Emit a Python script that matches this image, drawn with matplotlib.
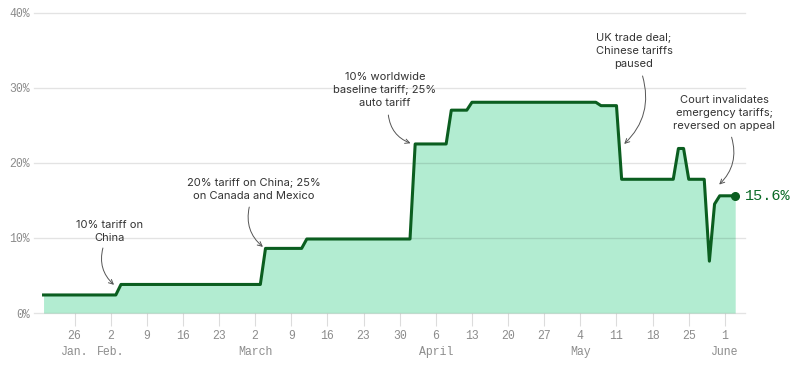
import matplotlib
matplotlib.use('Agg')
import matplotlib.pyplot as plt
import pandas as pd

# effective tariff rate (%) at each breakpoint, daily steps drawn as straight segments
dates = pd.to_datetime([
    '2025-01-20', '2025-02-03', '2025-02-04', '2025-03-03', '2025-03-04',
    '2025-03-11', '2025-03-12', '2025-04-01', '2025-04-02', '2025-04-08',
    '2025-04-09', '2025-04-12', '2025-04-13', '2025-05-07', '2025-05-08',
    '2025-05-11', '2025-05-12', '2025-05-22', '2025-05-23', '2025-05-24',
    '2025-05-25', '2025-05-28', '2025-05-29', '2025-05-30', '2025-05-31',
    '2025-06-03',
])
rate = [2.4, 2.4, 3.8, 3.8, 8.6,
        8.6, 9.85, 9.85, 22.5, 22.5,
        27.0, 27.0, 28.05, 28.05, 27.6,
        27.6, 17.8, 17.8, 21.9, 21.9,
        17.8, 17.8, 6.9, 14.5, 15.6,
        15.6]

tick_dates = pd.date_range('2025-01-26', '2025-06-01', freq='7D')
month_names = {'2025-01-26': 'Jan.', '2025-02-02': 'Feb.', '2025-03-02': 'March',
               '2025-04-06': 'April', '2025-05-04': 'May', '2025-06-01': 'June'}
y_ticks = [0, 10, 20, 30, 40]

# annotation: text, text position (days from Jan 26, %), arrow tail, arrow head, bend
notes = [
    ('10% tariff on\nChina', (6.7, 10.85), (5.5, 8.65), (7.65, 3.75), 0.3),
    ('20% tariff on China; 25%\non Canada and Mexico', (34.7, 16.4), (33.85, 14.1), (36.5, 8.8), 0.3),
    ('10% worldwide\nbaseline tariff; 25%\nauto tariff', (60.15, 29.7), (60.8, 26.35), (65.1, 22.6), 0.3),
    ('UK trade deal;\nChinese tariffs\npaused', (108.4, 34.9), (110.05, 31.55), (106.5, 22.5), -0.3),
    ('Court invalidates\nemergency tariffs;\nreversed on appeal', (125.85, 26.6), (127.3, 23.4), (124.9, 17.1), -0.3),
]

plt.rcParams['font.family'] = 'Liberation Mono'

base = pd.Timestamp('2025-01-26')


def day(n):
    return base + pd.Timedelta(days=n)


fig = plt.figure(figsize=(8.04, 3.66), dpi=100)
ax = fig.add_axes([34 / 804, 53 / 366, 711 / 804, 300.5 / 366])

ax.fill_between(dates, rate, 0, color='#b2ecd1', lw=0, zorder=1)
ax.plot(dates, rate, color='#0b5e20', lw=2.2, zorder=3)
ax.plot(dates[-1:], rate[-1:], 'o', color='#0b5e20', ms=5.5, zorder=4)
ax.annotate(f'{rate[-1]}%', (dates[-1], rate[-1]), xytext=(7, 0),
            textcoords='offset points', va='center', ha='left',
            fontsize=11, color='#0b6b27')

ax.set_xlim(day(-7.85), day(129.9))
ax.set_ylim(0, 40)

ax.set_yticks(y_ticks)
ax.set_yticklabels([f'{v}%' for v in y_ticks])
ax.yaxis.grid(True, color='black', alpha=0.11, lw=1, clip_on=False)
ax.set_axisbelow(False)

ax.set_xticks(tick_dates)
labels = []
for d in tick_dates:
    key = d.strftime('%Y-%m-%d')
    labels.append(f'{d.day}\n{month_names.get(key, "")}')
ax.set_xticklabels(labels, linespacing=1.45)

for s in ax.spines.values():
    s.set_visible(False)
ax.tick_params(axis='y', length=0, pad=3, labelsize=8.3, labelcolor='#8c8c8c')
ax.tick_params(axis='x', length=9, width=0.8, color='#dcdcdc', pad=3,
               labelsize=8.3, labelcolor='#8c8c8c')

for text, (tx, ty), (ax0, ay0), (hx, hy), rad in notes:
    ax.text(day(tx), ty, text, ha='center', va='center', family='Inter',
            fontsize=8, color='#333333', linespacing=1.35, zorder=5)
    ax.annotate('', xy=(day(hx), hy), xytext=(day(ax0), ay0),
                arrowprops=dict(arrowstyle='->', color='#555555', lw=0.7,
                                connectionstyle=f'arc3,rad={rad}',
                                shrinkA=0, shrinkB=0, mutation_scale=8),
                zorder=5)

fig.savefig('out.png', dpi=100)
